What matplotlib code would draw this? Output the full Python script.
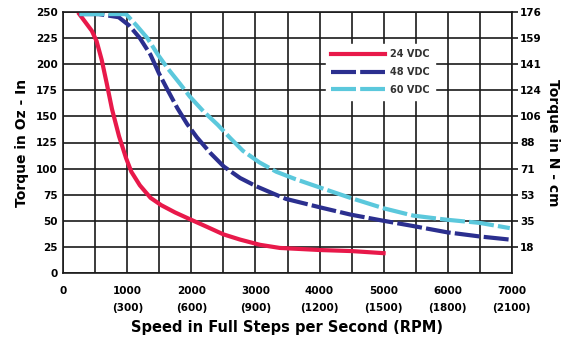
import matplotlib
matplotlib.use("Agg")
import matplotlib.pyplot as plt

# ---- data ----
x24 = [250, 445, 520, 600, 680, 760, 870, 980, 1062, 1195, 1362, 1528, 1745, 1995, 2250, 2500, 2760, 3070, 3380, 4010, 4500, 5000]
y24 = [248, 232, 222, 204, 181, 157, 131, 110, 97, 84, 72, 65, 58, 51, 44, 37, 32, 27, 24, 22, 21, 19]

x48 = [250, 552, 865, 1030, 1195, 1362, 1495, 1640, 1780, 1930, 2085, 2295, 2505, 2760, 3015, 3280, 3475, 4000, 4480, 5000, 5460, 5990, 6500, 6970]
y48 = [248, 248, 245, 237, 225, 209, 191, 174, 158, 143, 130, 115, 102, 91, 83, 76, 71, 63, 56, 50, 45, 39, 35, 32]

x60 = [250, 980, 1145, 1312, 1478, 1630, 1825, 1975, 2185, 2410, 2610, 2805, 3060, 3325, 3620, 4000, 4480, 5000, 5460, 5990, 6500, 6970]
y60 = [248, 248, 237, 225, 209, 196, 181, 169, 155, 142, 129, 117, 106, 97, 90, 82, 72, 62, 55, 51, 48, 43]

series_labels = ["24 VDC", "48 VDC", "60 VDC"]

xticks_major = [0, 1000, 2000, 3000, 4000, 5000, 6000, 7000]
xtick_labels = ["0", "1000\n(300)", "2000\n(600)", "3000\n(900)", "4000\n(1200)",
                "5000\n(1500)", "6000\n(1800)", "7000\n(2100)"]
yticks_left = [0, 25, 50, 75, 100, 125, 150, 175, 200, 225, 250]
yticks_right = [25, 50, 75, 100, 125, 150, 175, 200, 225, 250]
ylabels_right = ["18", "35", "53", "71", "88", "106", "124", "141", "159", "176"]

# ---- figure ----
plt.rcParams['font.family'] = ['DejaVu Sans']
plt.rcParams['font.weight'] = 'bold'
fig = plt.figure(figsize=(5.61, 3.37), dpi=100)
ax = fig.add_axes([63.3/561, 1 - 273/337, (511.7 - 63.3)/561, (273 - 12)/337])

ax.set_xlim(0, 7000)
ax.set_ylim(0, 250)
ax.set_xticks(xticks_major)
ax.set_xticks(list(range(500, 7000, 1000)), minor=True)
ax.set_xticklabels(xtick_labels, fontsize=7.5, fontweight='heavy', linespacing=1.9)
ax.set_yticks(yticks_left)
ax.set_yticklabels([str(v) for v in yticks_left], fontsize=7.5, fontweight='heavy')
ax.tick_params(axis='x', which='both', length=0, pad=9)
ax.tick_params(axis='y', which='both', length=0, pad=4)
ax.grid(True, which='both', color='#1a1a1a', linewidth=1.2)
ax.set_axisbelow(True)
for s in ax.spines.values():
    s.set_color('#1a1a1a')
    s.set_linewidth(1.2)

l1, = ax.plot(x24, y24, color='#E8194A', lw=3.0, solid_joinstyle='round')
l2, = ax.plot(x48, y48, color='#2B2F8F', lw=3.0, dashes=(6, 1))
l3, = ax.plot(x60, y60, color='#5BC8DC', lw=3.0, dashes=(6, 1))

leg = ax.legend([l1, l2, l3], series_labels, loc='upper left',
                bbox_to_anchor=(0.575, 0.895), frameon=True, fancybox=False,
                edgecolor='white', facecolor='white', framealpha=1,
                handlelength=5.6, labelspacing=0.8, fontsize=7,
                borderpad=0.5, handletextpad=0.5)
for t in leg.get_texts():
    t.set_color('#333333')

ax.set_xlabel("Speed in Full Steps per Second (RPM)", fontsize=10.5, fontweight='heavy', labelpad=0)
ax.xaxis.set_label_coords(0.5, -0.18)
ax.set_ylabel("Torque in Oz - In", fontsize=10, fontweight='heavy', labelpad=5)

ax2 = ax.twinx()
ax2.set_ylim(0, 250)
ax2.set_yticks(yticks_right)
ax2.set_yticklabels(ylabels_right, fontsize=7.5, fontweight='heavy')
ax2.tick_params(axis='y', length=4, width=1.2, color='#1a1a1a', pad=2)
for s in ax2.spines.values():
    s.set_visible(False)
ax2.set_ylabel("Torque in N - cm", fontsize=10, fontweight='heavy', rotation=270, labelpad=13)

fig.savefig("out.png", dpi=100)
